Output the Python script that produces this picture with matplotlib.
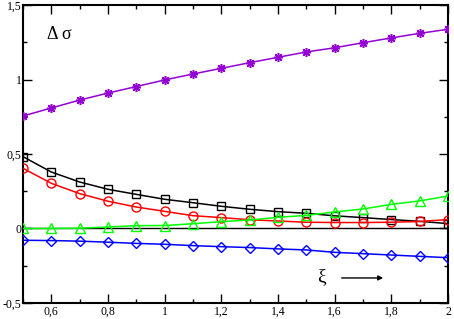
import matplotlib
matplotlib.use("Agg")
import matplotlib.pyplot as plt
from matplotlib.ticker import MultipleLocator, FuncFormatter

xi = [0.5, 0.6, 0.7, 0.8, 0.9, 1.0, 1.1, 1.2, 1.3, 1.4, 1.5, 1.6, 1.7, 1.8, 1.9, 2.0]
purple = [0.755, 0.809, 0.862, 0.909, 0.953, 0.997, 1.037, 1.075, 1.113, 1.149, 1.185, 1.213, 1.247, 1.279, 1.310, 1.337]
black = [0.482, 0.379, 0.312, 0.263, 0.229, 0.196, 0.173, 0.149, 0.129, 0.113, 0.102, 0.085, 0.073, 0.060, 0.048, 0.033]
red = [0.404, 0.303, 0.234, 0.183, 0.144, 0.115, 0.086, 0.073, 0.059, 0.050, 0.042, 0.040, 0.040, 0.042, 0.047, 0.060]
green = [0.0, 0.0, 0.002, 0.01, 0.019, 0.020, 0.032, 0.046, 0.057, 0.075, 0.088, 0.111, 0.131, 0.162, 0.185, 0.218]
blue = [-0.079, -0.081, -0.085, -0.092, -0.100, -0.106, -0.115, -0.122, -0.128, -0.137, -0.144, -0.160, -0.169, -0.178, -0.187, -0.196]

plt.rcParams['font.family'] = ['Liberation Serif', 'DejaVu Serif']

fig = plt.figure(figsize=(4.54, 3.19), dpi=100)
ax = fig.add_axes([0.0507, 0.0502, 0.9361, 0.9341])

ms = 6.5
ax.axhline(0, color='black', lw=1.0, zorder=1)
ax.plot(xi, purple, color='#9400D3', lw=1.1, marker=(8, 2, 0), ms=ms, mew=1.1, zorder=3)
ax.plot(xi, black, color='black', lw=1.1, marker='s', ms=ms-0.5, mfc='none', mew=1.0, zorder=3)
ax.plot(xi, red, color='red', lw=1.1, marker='o', ms=ms, mfc='none', mew=1.0, zorder=3)
ax.plot(xi, green, color='#00FF00', lw=1.1, marker='^', ms=ms, mfc='none', mew=1.0, zorder=3)
ax.plot(xi, blue, color='blue', lw=1.1, marker='D', ms=ms-1.5, mfc='none', mew=1.0, zorder=3)

ax.set_xlim(0.5, 2.0)
ax.set_ylim(-0.5, 1.5)
ax.xaxis.set_major_locator(MultipleLocator(0.2))
ax.xaxis.set_minor_locator(MultipleLocator(0.1))
ax.yaxis.set_major_locator(MultipleLocator(0.5))
ax.yaxis.set_minor_locator(MultipleLocator(0.25))

def fmt(v, pos):
    s = ('%.1f' % v).rstrip('0').rstrip('.')
    if s == '-0':
        s = '0'
    return s.replace('.', ',')

ax.xaxis.set_major_formatter(FuncFormatter(lambda v, p: '' if abs(v - 0.5) < 1e-6 else fmt(v, p)))
ax.yaxis.set_major_formatter(FuncFormatter(fmt))
ax.tick_params(which='both', direction='in', top=True, right=True, width=1.0, labelsize=8.5, pad=2)
ax.tick_params(which='major', length=6.5)
ax.tick_params(which='minor', length=3.2)
ax.tick_params(axis='y', pad=1)
for s in ax.spines.values():
    s.set_linewidth(1.5)

ax.text(0.585, 1.30, 'Δ σ', fontsize=13, va='center', ha='left')
ax.text(1.555, -0.325, 'ξ', fontsize=14, va='center', ha='center')
ax.annotate('', xy=(1.781, -0.332), xytext=(1.615, -0.332),
            arrowprops=dict(arrowstyle='-|>', color='black', lw=1.0, mutation_scale=7))

fig.savefig('out.png', dpi=100)
